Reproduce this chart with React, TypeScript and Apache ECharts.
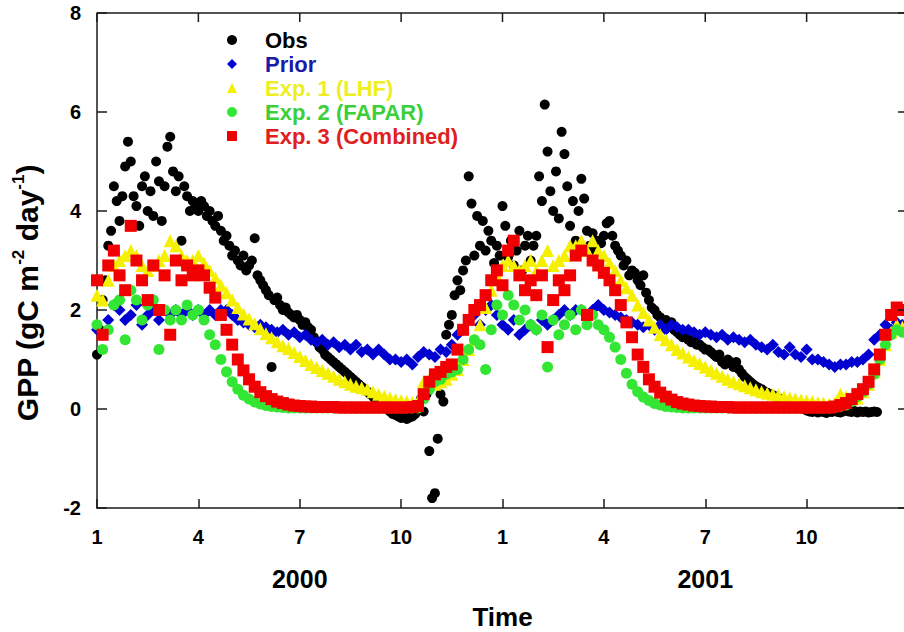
import React, { useEffect, useRef } from "react";
import * as echarts from "echarts";

// x is measured in months since 1 Jan 2000; model outputs sampled every 1/6 month, obs every 1/12 month
const MODEL_STEP = 1 / 6;
const OBS_STEP = 1 / 12;

const seriesNames = ["Obs", "Prior", "Exp. 1 (LHF)", "Exp. 2 (FAPAR)", "Exp. 3 (Combined)"];
const yearLabels: Record<number, string> = { 6: "2000", 18: "2001" };
const monthTicks = [0, 3, 6, 9, 12, 15, 18, 21, 24];
const gppTicks = [-2, 0, 2, 4, 6, 8];

const obsGPP = [
  1.1, 1.6, 2.2, 2.6, 3.3, 3.6, 4.5, 4.2, 3.8, 4.3, 4.9, 5.4, 5.0, 4.3,
  4.1, 3.7, 4.5, 4.7, 4.0, 4.4, 3.9, 5.0, 4.6, 3.8, 4.5, 5.3, 5.5, 4.8, 4.4, 4.7, 3.4, 4.5, 4.3, 4.0, 4.2, 4.1, 4.0,
  4.2, 4.1, 3.9, 4.0, 3.8, 3.7, 3.9, 3.6, 3.4, 3.5, 3.3, 3.1, 3.2, 3.0, 2.9, 3.1, 2.8, 2.9, 3.0, 3.45, 2.7,
  2.6, 2.5, 2.4, 2.3, 0.85, 2.2, 2.25, 2.1, 2.0, 2.05, 1.95, 1.9, 1.85, 1.9, 1.8, 1.7, 1.75, 1.65, 1.6, 1.45, 1.35, 1.25, 1.2, 1.1, 1.05,
  1.0, 0.95, 0.9, 0.85, 0.8, 0.75, 0.7, 0.65, 0.6, 0.55, 0.5, 0.45, 0.4, 0.35, 0.3, 0.25, 0.2, 0.15, 0.1, 0.05,
  0.0, -0.05, -0.1, -0.12, -0.15, -0.18, -0.15, -0.2, -0.17, -0.15, -0.1,
  0.0, 0.2, -0.05, 0.3, -0.85, -1.8, -1.7, -0.6, 0.3, 0.15, 1.5,
  1.7, 1.9, 2.3, 2.6, 2.4, 2.8, 3.0, 4.7, 4.15, 3.1, 3.9, 3.3, 3.8, 3.2, 3.6, 3.4, 2.95, 3.3, 3.1, 4.1,
  3.7, 3.07, 3.4, 2.9, 3.2, 3.6, 2.8, 3.3, 3.5, 3.0, 3.3, 3.5, 4.7, 4.2, 6.15, 5.2,
  4.4, 4.0, 4.8, 3.85, 5.6, 5.15, 4.5, 3.7, 4.2, 3.4, 4.0, 4.65, 4.25, 3.6, 3.3, 3.55, 3.2, 3.4, 3.35, 3.5, 3.75, 3.8, 3.5, 3.3, 3.2, 3.1, 2.9, 3.0,
  2.7, 2.8, 2.75, 2.6, 2.5, 2.7, 2.35, 2.2, 2.05, 2.0, 1.9, 1.85, 1.75, 1.8, 1.7, 1.75, 1.6, 1.55, 1.5, 1.45, 1.5, 1.4, 1.35, 1.4, 1.3, 1.3, 1.25, 1.2, 1.2, 1.15, 1.1, 1.05,
  1.1, 0.95, 0.9, 1.0, 0.95, 0.85, 0.95, 0.8, 0.72, 0.65, 0.6, 0.55, 0.5, 0.46, 0.43, 0.4, 0.36, 0.33, 0.3, 0.28, 0.25, 0.22, 0.2, 0.17, 0.14, 0.12, 0.1, 0.07, 0.04, 0.02, 0.0, -0.03,
  -0.05, -0.06, -0.04, -0.07, -0.05, -0.06, -0.08, -0.05, -0.06, -0.04, -0.06, -0.07, -0.05, -0.03, -0.05, -0.06, -0.04, -0.07, -0.05, -0.06, -0.05, -0.07, -0.06, -0.05, -0.06,
];

const priorGPP = [
  1.6, 1.5, 1.8, 2.1, 2.0, 1.8, 1.9, 2.1, 1.7, 1.9, 2.0, 1.8,
  2.0, 1.9, 2.0, 1.9, 2.0, 1.9, 2.0, 1.9, 2.0, 1.9, 2.0, 2.0,
  1.9, 1.8, 1.75, 1.7, 1.65, 1.7, 1.65, 1.6, 1.55, 1.6, 1.5, 1.55,
  1.45, 1.5, 1.4, 1.35, 1.4, 1.3, 1.35, 1.25, 1.3, 1.2, 1.3, 1.15,
  1.2, 1.1, 1.2, 1.1, 1.0, 1.0, 0.95, 1.0, 0.9, 1.05, 1.15, 1.1,
  1.05, 1.2, 1.15, 1.3, 1.5, 1.6, 1.8, 1.9, 1.7, 2.0, 2.1, 1.9,
  1.7, 1.6, 1.8, 1.5, 1.6, 1.7, 1.6, 1.8, 1.7, 1.8, 1.9, 2.0,
  1.9, 2.0, 2.0, 1.9, 2.0, 2.1, 2.0, 1.95, 1.9, 1.85, 1.8, 1.75,
  1.7, 1.65, 1.7, 1.6, 1.7, 1.6, 1.7, 1.65, 1.6, 1.6, 1.55, 1.5,
  1.55, 1.5, 1.45, 1.5, 1.4, 1.45, 1.4, 1.35, 1.4, 1.3, 1.25, 1.2,
  1.3, 1.15, 1.1, 1.25, 1.1, 1.05, 1.2, 1.0, 1.0, 0.95, 0.9, 0.85,
  0.9, 0.9, 0.95, 0.95, 1.0, 1.1, 1.4, 1.5, 1.7, 1.6, 1.75, 1.7,
];

const exp1GPP = [
  2.3, 2.2, 2.6, 2.9, 3.0, 3.1, 3.2, 3.1, 2.9, 2.8, 2.9, 3.0,
  3.1, 3.4, 3.3, 3.1, 3.0, 3.0, 3.1, 2.95, 2.8, 2.65, 2.5, 2.35,
  2.2, 2.05, 1.92, 1.82, 1.72, 1.62, 1.52, 1.44, 1.36, 1.28, 1.22, 1.14,
  1.06, 0.98, 0.9, 0.84, 0.78, 0.72, 0.66, 0.6, 0.55, 0.5, 0.46, 0.43,
  0.4, 0.35, 0.3, 0.26, 0.22, 0.19, 0.17, 0.15, 0.13, 0.15, 0.55, 0.6,
  0.5, 0.55, 0.6, 0.7, 0.8, 1.0, 1.2, 1.4, 1.7, 2.05, 2.4, 2.7,
  2.9, 3.0, 2.9, 2.8, 2.9, 3.0, 2.8, 3.0, 3.2, 2.9, 3.0, 3.1,
  3.3, 3.3, 3.4, 3.2, 3.4, 3.2, 3.1, 2.95, 2.8, 2.6, 2.45, 2.3,
  2.1, 1.95, 1.8, 1.65, 1.5, 1.4, 1.3, 1.2, 1.13, 1.05, 0.98, 0.92,
  0.85, 0.78, 0.72, 0.66, 0.6, 0.55, 0.51, 0.47, 0.43, 0.39, 0.35, 0.32,
  0.3, 0.28, 0.25, 0.22, 0.2, 0.18, 0.16, 0.15, 0.13, 0.12, 0.1, 0.12,
  0.3, 0.25, 0.2, 0.22, 0.35, 0.5, 0.75, 1.0, 1.3, 1.55, 1.7, 1.65,
];

const exp2GPP = [
  1.7, 1.2, 1.6, 2.1, 2.2, 1.4, 2.4, 2.2, 1.8, 2.1, 2.2, 1.2,
  2.0, 1.8, 2.0, 1.8, 2.1, 1.9, 2.0, 1.8, 1.5, 1.3, 1.0, 0.75,
  0.55, 0.4, 0.28, 0.2, 0.14, 0.1, 0.07, 0.05, 0.04, 0.03, 0.02, 0.02,
  0.02, 0.02, 0.02, 0.02, 0.02, 0.02, 0.02, 0.02, 0.02, 0.02, 0.02, 0.02,
  0.02, 0.02, 0.02, 0.02, 0.02, 0.02, 0.02, 0.02, 0.02, 0.02, 0.2, 0.4,
  0.55, 0.6, 0.7, 0.75, 0.8, 1.0, 1.2, 1.4, 1.3, 0.8, 1.6, 2.1,
  1.9, 2.3, 2.1, 1.8, 2.0, 1.7, 1.6, 1.9, 0.85, 1.8, 1.5, 1.7,
  1.9, 1.6, 2.0, 1.7, 1.9, 1.7, 1.6, 1.45, 1.25, 1.0, 0.72, 0.5,
  0.35, 0.24, 0.17, 0.11, 0.08, 0.05, 0.04, 0.03, 0.02, 0.02, 0.02, 0.02,
  0.02, 0.02, 0.02, 0.02, 0.02, 0.02, 0.02, 0.02, 0.02, 0.02, 0.02, 0.02,
  0.02, 0.02, 0.02, 0.02, 0.02, 0.02, 0.02, 0.02, 0.02, 0.02, 0.02, 0.03,
  0.05, 0.08, 0.15, 0.25, 0.35, 0.5, 0.7, 1.0, 1.3, 1.5, 1.6, 1.55,
];

const exp3GPP = [
  2.6, 1.5, 2.9, 3.2, 2.7, 2.4, 3.7, 3.0, 2.6, 2.2, 2.9, 2.0,
  2.7, 1.5, 3.0, 2.6, 2.9, 2.7, 2.8, 2.7, 2.45, 2.25, 1.9, 1.6,
  1.3, 1.0, 0.78, 0.6, 0.45, 0.34, 0.26, 0.2, 0.15, 0.12, 0.09, 0.07,
  0.06, 0.05, 0.05, 0.04, 0.04, 0.04, 0.04, 0.03, 0.03, 0.03, 0.03, 0.03,
  0.03, 0.03, 0.03, 0.03, 0.03, 0.03, 0.03, 0.03, 0.04, 0.06, 0.3, 0.55,
  0.7, 0.75, 0.85, 0.9, 1.2, 1.6, 1.8, 2.0, 2.1, 2.3, 2.6, 2.8,
  2.5, 3.2, 3.4, 2.7, 2.4, 2.6, 2.3, 2.7, 1.25, 2.2, 2.6, 2.4,
  2.7, 3.1, 3.2, 1.9, 3.0, 2.9, 2.75, 2.6, 2.4, 2.1, 1.75, 1.45,
  1.1, 0.85, 0.6, 0.45, 0.33, 0.25, 0.19, 0.14, 0.11, 0.09, 0.07, 0.06,
  0.05, 0.05, 0.04, 0.04, 0.04, 0.03, 0.03, 0.03, 0.03, 0.03, 0.03, 0.03,
  0.03, 0.03, 0.03, 0.03, 0.03, 0.03, 0.03, 0.03, 0.03, 0.03, 0.03, 0.05,
  0.08, 0.12, 0.2, 0.3, 0.4, 0.55, 0.8, 1.1, 1.5, 1.9, 2.05, 2.0,
];

const markerColors = ["#000000", "#0000d0", "#f5f000", "#33e633", "#f00000"];
const legendTextColors = ["#000000", "#1a1aa8", "#eeee22", "#3ccf3c", "#e02020"];
const symbols = ["circle", "diamond", "triangle", "circle", "rect"];
const symbolSizes = [10, 12, 13, 11, 12];

const toPoints = (vals: number[], step: number) => vals.map((v, i) => [i * step, v]);

const FONT = "Liberation Sans";
const AXIS_COLOR = "#1a1a1a";

export default function App() {
  const ref = useRef<HTMLDivElement>(null);
  useEffect(() => {
    document.body.style.margin = "0";
    if (!ref.current) return;
    const chart = echarts.init(ref.current, undefined, { renderer: "svg" });
    const dataSets = [
      toPoints(obsGPP, OBS_STEP),
      toPoints(priorGPP, MODEL_STEP),
      toPoints(exp1GPP, MODEL_STEP),
      toPoints(exp2GPP, MODEL_STEP),
      toPoints(exp3GPP, MODEL_STEP),
    ];
    const xMin = monthTicks[0];
    const xMax = monthTicks[monthTicks.length - 1];
    const yMin = gppTicks[0];
    const yMax = gppTicks[gppTicks.length - 1];
    const axisLine = () => ({ show: true, onZero: false, lineStyle: { color: AXIS_COLOR, width: 1.5 } });
    const tick = (len: number) => ({ show: true, inside: true, length: len, lineStyle: { color: AXIS_COLOR, width: 1.5 } });

    // mirrored frame (top and right edges with inward ticks) as plain line series in data space
    const tickDy = (yMax - yMin) * 0.0182; // about 9px
    const tickDx = (xMax - xMin) * 0.0123; // about 10px
    const frameSegments: number[][][] = [
      [[xMin, yMax], [xMax, yMax]],
      [[xMax, yMin], [xMax, yMax]],
      ...monthTicks.map((m) => [[m, yMax], [m, yMax - tickDy]]),
      ...gppTicks.map((g) => [[xMax - tickDx, g], [xMax, g]]),
    ];
    const frameSeries = frameSegments.map((seg, k) => ({
      id: "frame-" + k,
      type: "line",
      data: seg,
      symbol: "none",
      showSymbol: false,
      clip: false,
      silent: true,
      lineStyle: { color: AXIS_COLOR, width: 1.5, type: "solid" },
      itemStyle: { color: AXIS_COLOR },
      emphasis: { disabled: true },
      tooltip: { show: false },
      z: 20,
    }));

    chart.setOption({
      animation: false,
      textStyle: { fontFamily: FONT },
      grid: { left: 97, top: 13, right: 8, bottom: 124, outerBoundsMode: "none", containLabel: false },
      xAxis: {
        type: "value",
        min: xMin,
        max: xMax,
        interval: 3,
        axisLine: axisLine(),
        axisTick: tick(9),
        splitLine: { show: false },
        axisLabel: {
          margin: 17,
          color: "#000",
          fontSize: 20,
          fontWeight: "bold",
          fontFamily: FONT,
          showMaxLabel: false,
          formatter: (v: number) => {
            const m = (((v % 12) + 12) % 12) + 1;
            const yr = yearLabels[v];
            return yr ? `{t|${m}}\n{y|${yr}}` : `{t|${m}}`;
          },
          rich: {
            t: { fontSize: 20, fontWeight: "bold", lineHeight: 24, color: "#000", fontFamily: FONT },
            y: { fontSize: 25, fontWeight: "bold", lineHeight: 60, color: "#000", fontFamily: FONT },
          },
        },
        name: "Time",
        nameLocation: "middle",
        nameGap: 97,
        nameTextStyle: { fontSize: 26, lineHeight: 24, fontWeight: "bold", color: "#000", fontFamily: FONT },
      },
      yAxis: {
        type: "value",
        min: yMin,
        max: yMax,
        interval: 2,
        axisLine: axisLine(),
        axisTick: tick(10),
        splitLine: { show: false },
        axisLabel: { margin: 16, color: "#000", fontSize: 20, fontWeight: "bold", fontFamily: FONT },
      },
      legend: {
        orient: "vertical",
        left: 222,
        top: 24,
        itemWidth: 10,
        itemHeight: 10,
        itemGap: 2,
        textStyle: { fontSize: 22, fontWeight: "bold", lineHeight: 22, fontFamily: FONT, padding: [0, 0, 0, 23] },
        data: seriesNames.map((n, i) => ({ name: n, icon: symbols[i], textStyle: { color: legendTextColors[i] } })),
      },
      graphic: [
        {
          id: "ytitle",
          type: "text",
          x: 27,
          y: 293,
          rotation: Math.PI / 2,
          style: {
            text: "{a|GPP (gC m}{s|-2}{a| day}{s|-1}{a|)}",
            align: "center",
            verticalAlign: "middle",
            fill: "#000",
            rich: {
              a: { fontSize: 30, fontWeight: "bold", fontFamily: FONT, lineHeight: 34, fill: "#000" },
              s: { fontSize: 17, fontWeight: "bold", fontFamily: FONT, lineHeight: 20, verticalAlign: "top", fill: "#000" },
            },
          },
        },
      ],
      series: [
        ...seriesNames.map((n, i) => ({
          name: n,
          type: "scatter",
          symbol: symbols[i],
          symbolSize: symbolSizes[i],
          itemStyle: { color: markerColors[i], opacity: 1 },
          data: dataSets[i],
          z: 2 + i,
        })),
        ...frameSeries,
      ],
    });

    return () => chart.dispose();
  }, []);
  return (
    <div style={{ width: 904, height: 632, overflow: "hidden" }}>
      <div ref={ref} style={{ width: 916, height: 632 }} />
    </div>
  );
}
